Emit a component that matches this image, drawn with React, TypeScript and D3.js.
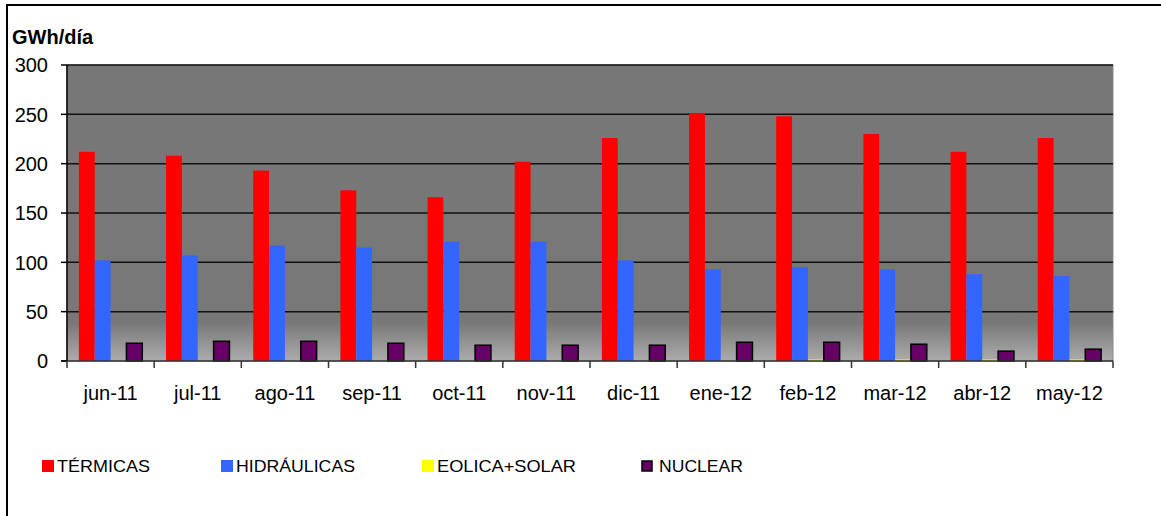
import * as d3 from 'd3';

const width = 1161;
const height = 516;
const margin = { top: 65, right: 48, bottom: 155, left: 67 };

const months = ['jun-11', 'jul-11', 'ago-11', 'sep-11', 'oct-11', 'nov-11', 'dic-11', 'ene-12', 'feb-12', 'mar-12', 'abr-12', 'may-12'];
const termicas = [212, 208, 193, 173, 166, 202, 226, 251, 248, 230, 212, 226];
const hidraulicas = [102, 107, 117, 115, 121, 121, 102, 93, 95, 93, 88, 86];
const eolicaSolar = [0, 0, 0, 0, 0, 0, 0, 0, 1.5, 1.5, 1.5, 1.5];
const nuclear = [18, 20, 20, 18, 16, 16, 16, 19, 19, 17, 10, 12];
const yTicks = [0, 50, 100, 150, 200, 250, 300];

const series = [
  { name: 'TÉRMICAS', values: termicas, color: '#ff0000', stroke: 'none', legendX: 42, textLen: 93 },
  { name: 'HIDRÁULICAS', values: hidraulicas, color: '#3366ff', stroke: 'none', legendX: 221, textLen: 119 },
  { name: 'EOLICA+SOLAR', values: eolicaSolar, color: '#ffff00', stroke: 'none', legendX: 422, textLen: 139 },
  { name: 'NUCLEAR', values: nuclear, color: '#660066', stroke: '#000', legendX: 642, textLen: 84 },
];

const font = 'Arial, "Liberation Sans", sans-serif';

export default function App() {
  const innerW = width - margin.left - margin.right;
  const innerH = height - margin.top - margin.bottom;

  const x = d3.scaleBand().domain(months).range([0, innerW]).paddingInner(0).paddingOuter(0);
  const slot = x.bandwidth();
  const barW = slot / 5.5; // gap width 150%
  const offset = barW * 0.75;
  const y = d3.scaleLinear().domain([0, 300]).range([innerH, 0]);

  return (
    <svg
      width={width}
      height={height}
      style={{ position: 'absolute', left: 0, top: 0, background: '#fff' }}
      fontFamily={font}
    >
      <defs>
        <linearGradient id="plotBg" x1="0" y1="0" x2="0" y2="1">
          <stop offset="0" stopColor="#777777" />
          <stop offset="0.87" stopColor="#787878" />
          <stop offset="1" stopColor="#acacac" />
        </linearGradient>
      </defs>
      <rect x={7} y={5} width={1170} height={530} fill="#fff" stroke="#000" strokeWidth={2} />
      <text x={12} y={44} fontSize={20} fontWeight="bold" fill="#000">GWh/día</text>
      <g transform={`translate(${margin.left},${margin.top})`}>
        <rect x={0} y={0} width={innerW} height={innerH} fill="url(#plotBg)" stroke="#8a8a8a" strokeWidth={1} />
        {yTicks.filter((t) => t > 0).map((t) => (
          <line key={t} x1={0} x2={innerW} y1={y(t)} y2={y(t)} stroke="#111" strokeWidth={1.5} />
        ))}
        {months.map((m, i) =>
          series.map((s, j) => {
            const v = s.values[i];
            const h = innerH - y(v);
            if (h <= 0) return null;
            return (
              <rect
                key={m + s.name}
                x={(x(m) as number) + offset + j * barW}
                y={y(v)}
                width={barW}
                height={h}
                fill={s.color}
                stroke={s.stroke}
                strokeWidth={s.stroke === 'none' ? 0 : 1.5}
              />
            );
          })
        )}
        <line x1={0} x2={0} y1={0} y2={innerH} stroke="#000" strokeWidth={1.5} />
        <line x1={-6} x2={innerW} y1={innerH} y2={innerH} stroke="#333" strokeWidth={1.5} />
        {yTicks.map((t) => (
          <g key={t}>
            <line x1={-6} x2={0} y1={y(t)} y2={y(t)} stroke="#000" strokeWidth={1.5} />
            <text x={-19} y={y(t)} dy="0.36em" textAnchor="end" fontSize={20} fill="#000">{t}</text>
          </g>
        ))}
        {d3.range(months.length + 1).map((i) => (
          <line key={i} x1={i * slot} x2={i * slot} y1={innerH} y2={innerH + 7} stroke="#333" strokeWidth={1.5} />
        ))}
        {months.map((m) => (
          <text key={m} x={(x(m) as number) + slot / 2} y={innerH + 39} textAnchor="middle" fontSize={20} fill="#000">{m}</text>
        ))}
      </g>
      <g>
        {series.map((s) => (
          <g key={s.name}>
            <rect
              x={s.legendX}
              y={s.stroke === 'none' ? 460 : 461}
              width={s.stroke === 'none' ? 12 : 10}
              height={s.stroke === 'none' ? 12 : 10}
              fill={s.color}
              stroke={s.stroke}
              strokeWidth={s.stroke === 'none' ? 0 : 1.5}
            />
            <text
              x={s.legendX + (s.stroke === 'none' ? 15 : 17)}
              y={472}
              fontSize={17}
              fill="#000"
              textLength={s.textLen}
              lengthAdjust="spacingAndGlyphs"
            >
              {s.name}
            </text>
          </g>
        ))}
      </g>
    </svg>
  );
}
